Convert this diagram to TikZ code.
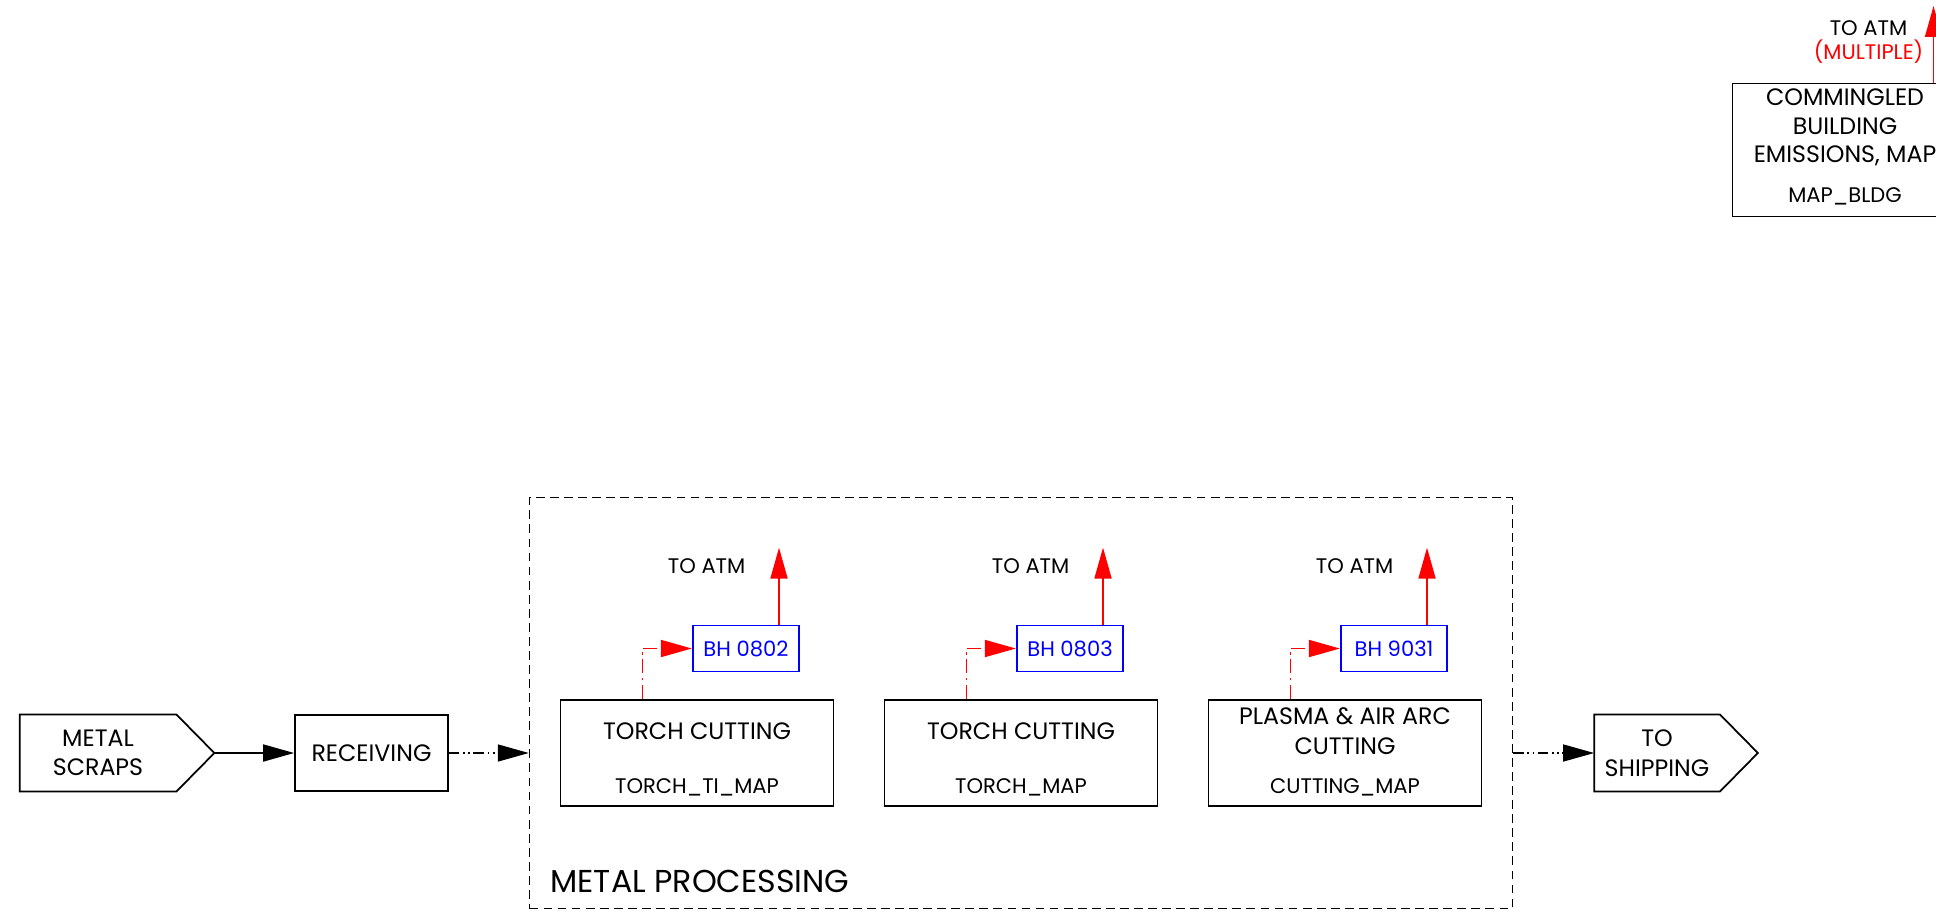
\documentclass[tikz,border=0pt]{standalone}
\usepackage{fontspec}
\setmainfont{Poppins}
\usetikzlibrary{positioning,arrows.meta,calc}

\begin{document}
\begin{tikzpicture}[
        font=\fontsize{13.5}{16.8}\selectfont,
        >={Triangle[length=6.2mm, width=3.4mm]},
        proc/.style ={draw, line width=1pt, minimum width=5.46cm, minimum height=2.13cm},
        unit/.style ={draw, line width=1pt, minimum width=3.06cm, minimum height=1.53cm, align=center},
        term/.style ={minimum height=1.53cm, inner sep=0pt, align=center},
        bhbox/.style={draw=blue, text=blue, line width=1pt, minimum width=2.13cm,
                      minimum height=0.92cm, font=\fontsize{12}{14}\selectfont},
        grp/.style  ={draw, line width=0.8pt, dash pattern=on 5pt off 3pt,
                      minimum width=19.66cm, minimum height=8.22cm},
        idlbl/.style={font=\fontsize{12}{14}\selectfont},
        atm/.style  ={font=\fontsize{12}{14}\selectfont},
        flow/.style ={->, line width=1pt},
        xfer/.style ={->, line width=0.8pt, dash pattern=on 6pt off 2pt on 1pt off 2pt on 1pt off 2pt},
        duct/.style ={->, red, line width=1pt, dash pattern=on 8pt off 2.5pt on 1.5pt off 2.5pt},
        vent/.style ={->, red, line width=1pt},
    ]
    \useasboundingbox (0,0) rectangle (38.72,18.2);

    % ===================== Inflow / outflow =====================
    \node[term, minimum width=3.12cm] (scraps) at (1.96,3.14) {METAL\\SCRAPS};
    \draw[line width=1pt] (scraps.north west) -- (scraps.north east)
        -- ($(scraps.east)+(0.76,0)$) coordinate (scrapstip)
        -- (scraps.south east) -- (scraps.south west) -- cycle;

    \node[unit] (recv) at (7.43,3.14) {RECEIVING};
    \draw[flow] (scrapstip) -- (recv.west);

    \node[term, minimum width=2.50cm] (ship) at (33.14,3.14) {TO\\SHIPPING};
    \draw[line width=1pt] (ship.north west) -- (ship.north east)
        -- ($(ship.east)+(0.76,0)$)
        -- (ship.south east) -- (ship.south west) -- cycle;

    % ===================== Metal processing group =====================
    \node[grp] (mp) at (20.42,4.14) {};
    \node[anchor=base west, font=\fontsize{18}{20}\selectfont]
        at ([xshift=3.1mm,yshift=3.4mm]mp.south west) {METAL PROCESSING};

    \draw[xfer] (recv.east) -- (recv.east -| mp.west);
    \draw[xfer] (mp.east |- ship.west) -- (ship.west);

    \foreach \i/\x/\nm/\id/\bh in {1/13.94/{TORCH CUTTING}/{TORCH\_TI\_MAP}/0802,
                                   2/20.42/{TORCH CUTTING}/{TORCH\_MAP}/0803,
                                   3/26.90/{PLASMA \& AIR ARC\\CUTTING}/{CUTTING\_MAP}/9031}{
        \node[proc] (p\i) at (\x,3.14) {};
        \node[align=center] at (\x,3.58) {\nm};
        \node[idlbl] at (\x,2.45) {\id};
        \node[bhbox] (bh\i) at ($(\x,5.23)+(0.98,0)$) {BH \bh};
        \draw[duct] ([xshift=-10.9mm]p\i.north) |- (bh\i.west);
        \draw[vent] ([xshift=6.6mm]bh\i.north) -- ++(0,1.54) coordinate (tip\i);
        \node[atm, anchor=east] at ([xshift=-5.5mm,yshift=-3.8mm]tip\i) {TO ATM};
    }

    % ===================== Building emissions (top-right) =====================
    \node[draw, line width=1pt, minimum width=4.5cm, minimum height=2.66cm] (bldg) at (36.9,15.2) {};
    \node[align=center, font=\fontsize{13.5}{16.3}\selectfont] at (36.9,15.65)
        {COMMINGLED\\BUILDING\\EMISSIONS, MAP};
    \node[idlbl] at (36.9,14.27) {MAP\_BLDG};
    \coordinate (bldgtip) at (38.67,18.08);
    \draw[vent] (bldgtip |- bldg.north) -- (bldgtip);
    \node[atm, align=center] at (37.37,17.36) {TO ATM\\\textcolor{red}{(MULTIPLE)}};
\end{tikzpicture}
\end{document}
